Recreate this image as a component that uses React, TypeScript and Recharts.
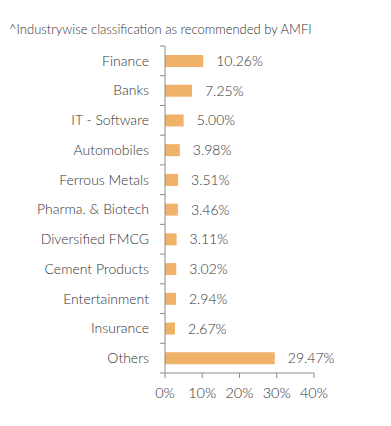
import { BarChart, Bar, XAxis, YAxis, LabelList } from "recharts";

const sectors = [
  "Finance",
  "Banks",
  "IT - Software",
  "Automobiles",
  "Ferrous Metals",
  "Pharma. & Biotech",
  "Diversified FMCG",
  "Cement Products",
  "Entertainment",
  "Insurance",
  "Others",
];
const weights = [10.26, 7.25, 5.0, 3.98, 3.51, 3.46, 3.11, 3.02, 2.94, 2.67, 29.47];
const xTicks = [0, 10, 20, 30, 40];

const data = sectors.map((name, i) => ({ name, value: weights[i] }));

const FONT = "Lato, 'Open Sans', sans-serif";
const TEXT = "#333";
const AXIS = "#8c8c8c";
const BAR = "#f0b168";

const AXIS_X = 165;
const TOP = 46;
const BOTTOM = 373;
const BAND = (BOTTOM - TOP) / sectors.length;

const SectorTick = (props: any) => {
  const { x, y, payload, index } = props;
  const edge = y - BAND / 2;
  return (
    <g>
      <line x1={AXIS_X - 5} x2={AXIS_X} y1={edge} y2={edge} stroke={AXIS} />
      {index === sectors.length - 1 && (
        <line x1={AXIS_X - 5} x2={AXIS_X} y1={y + BAND / 2} y2={y + BAND / 2} stroke={AXIS} />
      )}
      <text
        x={x}
        y={y}
        dy="0.35em"
        textAnchor="end"
        fill={TEXT}
        fontSize={14}
        fontFamily={FONT}
        fontWeight={300}
      >
        {payload.value}
      </text>
    </g>
  );
};

export default function App() {
  return (
    <div style={{ position: "absolute", left: 0, top: 0, width: 391, height: 426, background: "#fff" }}>
      <div
        style={{
          position: "absolute",
          left: 9,
          top: 21,
          fontSize: 13,
          fontFamily: FONT,
          fontWeight: 300,
          color: TEXT,
          whiteSpace: "nowrap",
        }}
      >
        ^Industrywise classification as recommended by AMFI
      </div>
      <BarChart
        width={391}
        height={426}
        data={data}
        layout="vertical"
        margin={{ top: TOP, right: 391 - 314, bottom: 426 - BOTTOM - 30, left: 0 }}
        barCategoryGap={0}
      >
        <XAxis
          type="number"
          domain={[0, 40]}
          ticks={xTicks}
          tickFormatter={(v) => `${v}%`}
          height={30}
          stroke={AXIS}
          tickSize={5}
          tickMargin={10}
          tick={{ fill: TEXT, fontSize: 14.5, fontFamily: FONT, fontWeight: 300 }}
        />
        <YAxis
          type="category"
          dataKey="name"
          width={AXIS_X}
          stroke={AXIS}
          tickLine={false}
          tickSize={0}
          tickMargin={16}
          interval={0}
          tick={<SectorTick />}
        />
        <Bar dataKey="value" fill={BAR} barSize={12} isAnimationActive={false}>
          <LabelList
            dataKey="value"
            position="right"
            offset={13}
            formatter={(v: any) => `${Number(v).toFixed(2)}%`}
            fill={TEXT}
            fontSize={14}
            fontFamily={FONT}
            fontWeight={300}
          />
        </Bar>
      </BarChart>
    </div>
  );
}
